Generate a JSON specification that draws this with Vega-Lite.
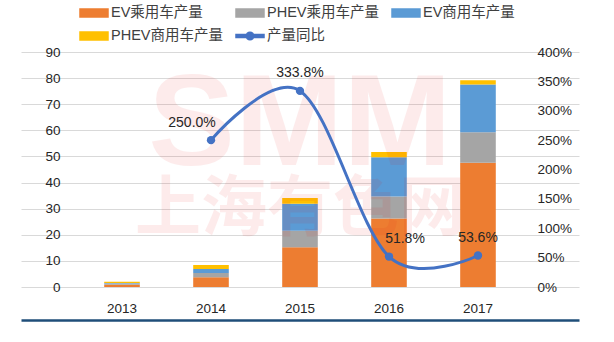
{
  "$schema": "https://vega.github.io/schema/vega-lite/v6.json",
  "width": 445,
  "height": 235,
  "autosize": {"type": "none"},
  "padding": {"left": 78, "top": 52, "right": 91, "bottom": 55},
  "config": {
    "view": {"stroke": null},
    "font": "Liberation Sans, Noto Sans CJK SC, sans-serif",
    "axis": {"labelFont": "Liberation Sans, Noto Sans CJK SC, sans-serif", "labelFontSize": 13.5, "labelColor": "#262626", "labelOverlap": false}
  },
  "resolve": {"scale": {"y": "independent"}},
  "layer": [
    {
      "data": {"values": [
        {"year": "2013", "series": "EV乘用车产量", "i": 1, "value": 0.9},
        {"year": "2013", "series": "PHEV乘用车产量", "i": 2, "value": 0.4},
        {"year": "2013", "series": "EV商用车产量", "i": 3, "value": 0.2},
        {"year": "2013", "series": "PHEV商用车产量", "i": 4, "value": 0.5},
        {"year": "2014", "series": "EV乘用车产量", "i": 1, "value": 3.7},
        {"year": "2014", "series": "PHEV乘用车产量", "i": 2, "value": 1.7},
        {"year": "2014", "series": "EV商用车产量", "i": 3, "value": 1.5},
        {"year": "2014", "series": "PHEV商用车产量", "i": 4, "value": 1.5},
        {"year": "2015", "series": "EV乘用车产量", "i": 1, "value": 15.2},
        {"year": "2015", "series": "PHEV乘用车产量", "i": 2, "value": 6.3},
        {"year": "2015", "series": "EV商用车产量", "i": 3, "value": 10.4},
        {"year": "2015", "series": "PHEV商用车产量", "i": 4, "value": 2.2},
        {"year": "2016", "series": "EV乘用车产量", "i": 1, "value": 26.2},
        {"year": "2016", "series": "PHEV乘用车产量", "i": 2, "value": 8.5},
        {"year": "2016", "series": "EV商用车产量", "i": 3, "value": 15.0},
        {"year": "2016", "series": "PHEV商用车产量", "i": 4, "value": 2.0},
        {"year": "2017", "series": "EV乘用车产量", "i": 1, "value": 47.6},
        {"year": "2017", "series": "PHEV乘用车产量", "i": 2, "value": 11.7},
        {"year": "2017", "series": "EV商用车产量", "i": 3, "value": 18.3},
        {"year": "2017", "series": "PHEV商用车产量", "i": 4, "value": 1.6}
      ]},
      "layer": [
        {
          "mark": {"type": "bar"},
          "encoding": {
            "x": {
              "field": "year", "type": "nominal", "title": null,
              "scale": {"range": [-57, 501], "paddingInner": 0.6, "paddingOuter": 0.935},
              "axis": {"labelAngle": 0, "offset": 33, "domainColor": "#1F4E79", "domainWidth": 2.5, "ticks": false, "tickSize": 0, "labelPadding": -19, "labelBaseline": "top", "grid": false}
            },
            "y": {
              "field": "value", "type": "quantitative", "stack": "zero", "title": null,
              "scale": {"domain": [0, 90], "nice": false},
              "axis": {"values": [0, 10, 20, 30, 40, 50, 60, 70, 80, 90], "domain": false, "ticks": false, "labelPadding": 18, "grid": true, "gridColor": "#D9D9D9", "gridWidth": 1}
            },
            "color": {
              "field": "series", "type": "nominal",
              "scale": {
                "domain": ["EV乘用车产量", "PHEV乘用车产量", "EV商用车产量", "PHEV商用车产量", "产量同比"],
                "range": ["#ED7D31", "#A5A5A5", "#5B9BD5", "#FFC000", "#4472C4"]
              },
              "legend": {
                "orient": "none", "legendX": 1, "legendY": -47, "direction": "horizontal", "columns": 3,
                "columnPadding": 10, "rowPadding": 8, "title": null,
                "symbolSize": 196, "symbolType": "M-1,-0.57H3V0.57H-1Z", "labelOffset": 16,
                "labelFontSize": 14.5, "labelColor": "#404040", "labelLimit": 250,
                "labelFont": "Liberation Sans, Noto Sans CJK SC, sans-serif",
                "encode": {"symbols": {"update": {
                  "shape": {"signal": "datum.value === '产量同比' ? 'M-1,-0.21H3V0.21H-1Z M1.55,0A0.55,0.55 0 1 1 0.45,0A0.55,0.55 0 1 1 1.55,0Z' : 'M-1,-0.57H3V0.57H-1Z'"},
                  "fill": {"scale": "color", "field": "value"},
                  "stroke": {"value": "transparent"},
                  "opacity": {"value": 1}
                }}}
              }
            },
            "order": {"field": "i", "type": "quantitative"}
          }
        },
        {
          "data": {"values": [{"wm": "SMM"}]},
          "mark": {"type": "text", "font": "Liberation Sans", "fontSize": 130, "fontWeight": "bold", "fill": "#E81010", "opacity": 0.08, "align": "center", "baseline": "alphabetic"},
          "encoding": {
            "x": {"datum": "2015", "type": "nominal", "title": null},
            "y": {"datum": 46.7, "type": "quantitative", "title": null,
              "axis": {"values": [0, 10, 20, 30, 40, 50, 60, 70, 80, 90], "domain": false, "ticks": false, "labelPadding": 18, "grid": true, "gridColor": "#D9D9D9", "gridWidth": 1}},
            "text": {"field": "wm"}
          }
        },
        {
          "data": {"values": [{"wm": "上海有色网"}]},
          "mark": {"type": "text", "font": "Noto Sans CJK SC", "fontSize": 66, "fontWeight": "bold", "fill": "#E81010", "opacity": 0.08, "align": "center", "baseline": "middle"},
          "encoding": {
            "x": {"datum": "2015", "type": "nominal", "title": null},
            "y": {"datum": 29.5, "type": "quantitative", "title": null,
              "axis": {"values": [0, 10, 20, 30, 40, 50, 60, 70, 80, 90], "domain": false, "ticks": false, "labelPadding": 18, "grid": true, "gridColor": "#D9D9D9", "gridWidth": 1}},
            "text": {"field": "wm"}
          }
        }
      ]
    },
    {
      "data": {"values": [
        {"year": "2014", "yoy": 2.5},
        {"year": "2015", "yoy": 3.338},
        {"year": "2016", "yoy": 0.518},
        {"year": "2017", "yoy": 0.536}
      ]},
      "encoding": {
        "x": {"field": "year", "type": "nominal", "title": null},
        "y": {
          "field": "yoy", "type": "quantitative", "title": null,
          "scale": {"domain": [0, 4], "nice": false},
          "axis": {"orient": "right", "values": [0, 0.5, 1, 1.5, 2, 2.5, 3, 3.5, 4], "format": ".0%", "domain": false, "ticks": false, "grid": false, "labelPadding": 14}
        }
      },
      "layer": [
        {
          "mark": {"type": "line", "interpolate": "cardinal", "tension": 0, "strokeWidth": 3},
          "encoding": {"color": {"datum": "产量同比", "type": "nominal"}}
        },
        {
          "mark": {"type": "point", "filled": true, "size": 70, "opacity": 1, "color": "#4472C4"}
        },
        {
          "transform": [{"filter": "datum.year == '2015' || datum.year == '2017'"}],
          "mark": {"type": "text", "fontSize": 14, "color": "#262626", "dy": -18},
          "encoding": {"text": {"field": "yoy", "type": "quantitative", "format": ".1%"}}
        },
        {
          "transform": [{"filter": "datum.year == '2014'"}],
          "mark": {"type": "text", "fontSize": 14, "color": "#262626", "dy": -17, "dx": -19},
          "encoding": {"text": {"field": "yoy", "type": "quantitative", "format": ".1%"}}
        },
        {
          "transform": [{"filter": "datum.year == '2016'"}],
          "mark": {"type": "text", "fontSize": 14, "color": "#262626", "dy": -18, "dx": 16},
          "encoding": {"text": {"field": "yoy", "type": "quantitative", "format": ".1%"}}
        }
      ]
    }
  ]
}
